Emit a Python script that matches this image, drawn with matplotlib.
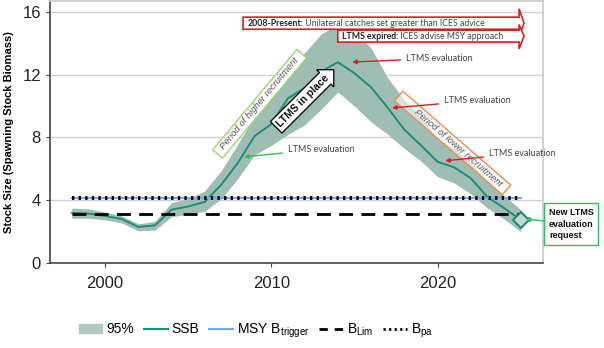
import matplotlib
matplotlib.use("Agg")
import matplotlib.pyplot as plt
from matplotlib.patches import Polygon
from matplotlib.lines import Line2D
from matplotlib.patches import Patch

plt.rcParams['font.family'] = ['Liberation Sans', 'DejaVu Sans']
plt.rcParams['mathtext.fontset'] = 'custom'
plt.rcParams['mathtext.rm'] = 'Liberation Sans'
plt.rcParams['mathtext.it'] = 'Liberation Sans:italic'

years = list(range(1998, 2026))
ssb = [3.2, 3.15, 3.0, 2.8, 2.3, 2.4, 3.4, 3.6, 3.9, 5.0, 6.4, 8.1, 8.85, 10.5, 11.15, 12.2,
       12.8, 12.1, 11.2, 9.9, 8.5, 7.5, 6.45, 6.1, 5.4, 4.2, 3.5, 2.75]
upper = [3.5, 3.45, 3.25, 3.0, 2.5, 2.65, 3.85, 4.1, 4.6, 5.9, 7.6, 9.4, 10.6, 12.2, 13.4, 14.6,
         15.2, 14.8, 13.7, 11.8, 10.4, 9.3, 7.9, 7.3, 6.4, 5.2, 4.3, 3.4]
lower = [2.85, 2.85, 2.75, 2.55, 2.05, 2.1, 2.95, 3.1, 3.3, 4.1, 5.4, 6.9, 7.5, 8.2, 8.8, 9.8,
         10.9, 10.0, 9.0, 8.2, 7.3, 6.5, 5.5, 5.1, 4.4, 3.5, 2.8, 2.0]
msy_btrigger = 4.12
b_pa = 4.12
b_lim = 3.1
yticks = [0, 4, 8, 12, 16]
xticks = [2000, 2010, 2020]

teal = '#1e8c78'
band = '#9fbeb3'
red = '#d42020'
green = '#2ec060'
orange = '#f08a4b'

fig = plt.figure(figsize=(6.04, 3.48), dpi=100)
ax = fig.add_axes([50/604, 85/348, 493/604, 262/348])
ax.set_xlim(1996.69, 2026.34)
ax.set_ylim(0, 16.70)

for y in yticks[1:]:
    ax.axhline(y, color='#d0d0d0', lw=1.0, zorder=0)

ax.fill_between(years, lower, upper, color=band, lw=0, zorder=1)
ax.plot(years, ssb, color=teal, lw=1.4, zorder=3)
ax.plot([years[0], years[-1]], [msy_btrigger]*2, color='#78a8f0', lw=1.5, zorder=4)
ax.plot([years[0], years[-1]], [b_pa]*2, color='black', lw=2.8, ls=(0, (0.6, 1.1)), zorder=5)
ax.plot([years[0], years[-1]], [b_lim]*2, color='black', lw=2.0, ls=(0, (5, 3)), zorder=5)
ax.plot([years[-1]], [ssb[-1]], marker='D', ms=8, mfc='#c8d6d0', mec=teal, mew=1.5, zorder=6)

ax.set_xticks(xticks)
ax.set_yticks(yticks)
ax.tick_params(axis='both', labelsize=12, length=3, color='#444444', labelcolor='#222222')
ax.tick_params(axis='x', pad=6)
for s in ['left', 'bottom']:
    ax.spines[s].set_color('#444444')
    ax.spines[s].set_linewidth(1.2)
for s in ['top', 'right']:
    ax.spines[s].set_color('#c8c8c8')
    ax.spines[s].set_linewidth(1.2)
ax.set_ylabel('Stock Size (Spawning Stock Biomass)', fontsize=8, fontweight='bold', labelpad=6)

# Top red arrow boxes
def arrow_box(x0, x1, xt, y0, y1, hy0, hy1):
    poly = Polygon([(x0, y0), (x1, y0), (x1, hy0), (xt, (y0 + y1) / 2), (x1, hy1), (x1, y1), (x0, y1)],
                   closed=True, fc='white', ec=red, lw=1.2, zorder=7)
    ax.add_patch(poly)

arrow_box(2008.3, 2024.9, 2025.2, 14.9, 15.67, 14.45, 16.2)
arrow_box(2014.0, 2024.9, 2025.2, 14.08, 14.84, 13.65, 15.2)
t1 = ax.text(2008.55, 15.28, '2008-Present:', fontsize=6.3, fontweight='bold', color='#222222',
             va='center', ha='left', zorder=8, family='Lato')
ax.annotate(' Unilateral catches set greater than ICES advice', xy=(1, 0.5), xycoords=t1,
            va='center', ha='left', fontsize=6.3, color='#444444', zorder=8, family='Lato')
t2 = ax.text(2014.25, 14.46, 'LTMS expired:', fontsize=6.3, fontweight='bold', color='#222222',
             va='center', ha='left', zorder=8, family='Lato')
ax.annotate(' ICES advise MSY approach', xy=(1, 0.5), xycoords=t2,
            va='center', ha='left', fontsize=6.3, color='#444444', zorder=8, family='Lato')

# LTMS evaluation annotations
ev_kw = dict(fontsize=6.5, color='#444444', va='center', ha='left', zorder=8, family='Lato')
ax.annotate('LTMS evaluation', xy=(2014.7, 12.8), xytext=(2018.1, 13.05),
            arrowprops=dict(arrowstyle='-|>', color=red, lw=1.0, mutation_scale=6), **ev_kw)
ax.annotate('LTMS evaluation', xy=(2017.1, 9.87), xytext=(2020.4, 10.35),
            arrowprops=dict(arrowstyle='-|>', color=red, lw=1.0, mutation_scale=6), **ev_kw)
ax.annotate('LTMS evaluation', xy=(2020.3, 6.5), xytext=(2023.1, 7.0),
            arrowprops=dict(arrowstyle='-|>', color=red, lw=1.0, mutation_scale=6), **ev_kw)
ax.annotate('LTMS evaluation', xy=(2008.2, 6.75), xytext=(2011.0, 7.25),
            arrowprops=dict(arrowstyle='-|>', color=green, lw=1.0, mutation_scale=6), **ev_kw)

# Rotated recruitment boxes
ax.text(2009.3, 10.15, '  Period of higher recruitment  ', rotation=50, rotation_mode='anchor',
        ha='center', va='center', fontsize=6.8, style='italic', color='#555555', zorder=7,
        bbox=dict(boxstyle='square,pad=0.2', fc='white', ec='#9ad66e', lw=1.0))
ax.text(2020.9, 7.65, '        Period of lower recruitment  ', rotation=-41, rotation_mode='anchor',
        ha='center', va='center', fontsize=6.8, style='italic', color='#555555', zorder=7,
        bbox=dict(boxstyle='square,pad=0.2', fc=(1, 1, 1, 0.55), ec=orange, lw=1.0))
ax.text(2011.9, 10.35, 'LTMS in place', rotation=45, rotation_mode='anchor',
        ha='center', va='center', fontsize=7.5, fontweight='bold', color='#111111', zorder=7,
        bbox=dict(boxstyle='rarrow,pad=0.3', fc='white', ec='#111111', lw=1.0))

# New LTMS evaluation request
ax.annotate('New LTMS\nevaluation\nrequest', xy=(2025.5, 2.78), xytext=(2026.7, 2.48),
            ha='left', va='center', fontsize=6.5, fontweight='bold', color='#111111',
            annotation_clip=False, zorder=8, linespacing=1.4,
            bbox=dict(boxstyle='square,pad=0.5', fc='white', ec=green, lw=1.0),
            arrowprops=dict(arrowstyle='-', color=green, lw=1.0, shrinkA=0, shrinkB=0))
ax.plot([2025.5], [2.78], marker='o', ms=2.5, color=green, zorder=8, clip_on=False)

handles = [Patch(color='#b2c9bf'),
           Line2D([], [], color=teal, lw=1.5),
           Line2D([], [], color='#78a8f0', lw=1.5),
           Line2D([], [], color='black', lw=2.0, ls=(0, (3, 2.5))),
           Line2D([], [], color='black', lw=2.0, ls=(0, (0.8, 1.2)))]
labels = ['95%', 'SSB', r'MSY B$_{\mathrm{trigger}}$', r'B$_{\mathrm{Lim}}$', r'B$_{\mathrm{pa}}$']
fig.legend(handles, labels, loc='center', bbox_to_anchor=(0.424, 0.05), ncol=5, frameon=False,
           fontsize=10, handlelength=1.7, handletextpad=0.3, columnspacing=0.7)

fig.savefig('out.png', dpi=100)
